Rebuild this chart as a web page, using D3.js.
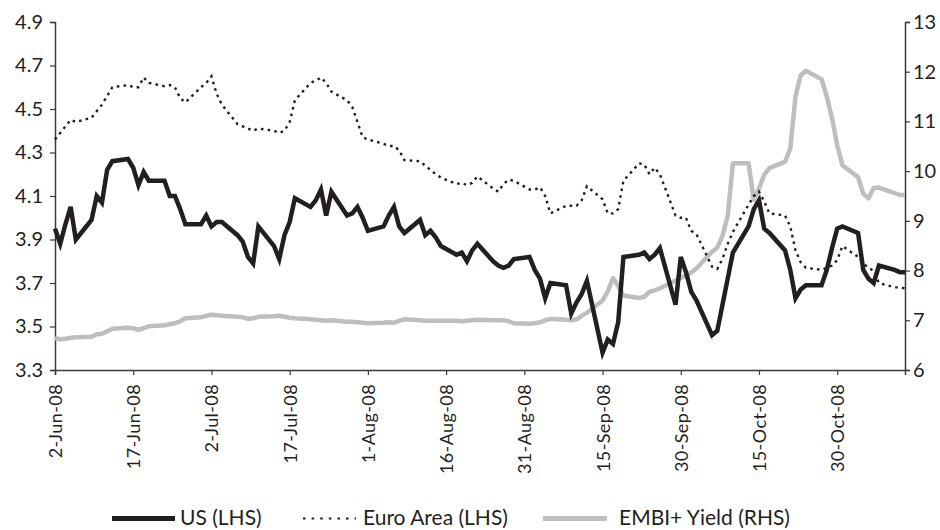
<!DOCTYPE html>
<html>
<head>
<meta charset="utf-8">
<script src="https://cdn.jsdelivr.net/npm/d3@7"></script>
<style>
  body { margin: 0; background: #fff; }
  svg text { font-family: Lato, "Open Sans", sans-serif; fill: #231f20; }
</style>
</head>
<body>
<div id="content"></div>
<script>
// business days, 2-Jun-08 .. 12-Nov-08
const dates = [
  "2008-06-02","2008-06-03","2008-06-04","2008-06-05","2008-06-06",
  "2008-06-09","2008-06-10","2008-06-11","2008-06-12","2008-06-13",
  "2008-06-16","2008-06-17","2008-06-18","2008-06-19","2008-06-20",
  "2008-06-23","2008-06-24","2008-06-25","2008-06-26","2008-06-27",
  "2008-06-30","2008-07-01","2008-07-02","2008-07-03","2008-07-04",
  "2008-07-07","2008-07-08","2008-07-09","2008-07-10","2008-07-11",
  "2008-07-14","2008-07-15","2008-07-16","2008-07-17","2008-07-18",
  "2008-07-21","2008-07-22","2008-07-23","2008-07-24","2008-07-25",
  "2008-07-28","2008-07-29","2008-07-30","2008-07-31","2008-08-01",
  "2008-08-04","2008-08-05","2008-08-06","2008-08-07","2008-08-08",
  "2008-08-11","2008-08-12","2008-08-13","2008-08-14","2008-08-15",
  "2008-08-18","2008-08-19","2008-08-20","2008-08-21","2008-08-22",
  "2008-08-25","2008-08-26","2008-08-27","2008-08-28","2008-08-29",
  "2008-09-01","2008-09-02","2008-09-03","2008-09-04","2008-09-05",
  "2008-09-08","2008-09-09","2008-09-10","2008-09-11","2008-09-12",
  "2008-09-15","2008-09-16","2008-09-17","2008-09-18","2008-09-19",
  "2008-09-22","2008-09-23","2008-09-24","2008-09-25","2008-09-26",
  "2008-09-29","2008-09-30","2008-10-01","2008-10-02","2008-10-03",
  "2008-10-06","2008-10-07","2008-10-08","2008-10-09","2008-10-10",
  "2008-10-13","2008-10-14","2008-10-15","2008-10-16","2008-10-17",
  "2008-10-20","2008-10-21","2008-10-22","2008-10-23","2008-10-24",
  "2008-10-27","2008-10-28","2008-10-29","2008-10-30","2008-10-31",
  "2008-11-03","2008-11-04","2008-11-05","2008-11-06","2008-11-07",
  "2008-11-10","2008-11-11","2008-11-12"
];

// US 10y yield (LHS)
const us = [
  3.95,3.88,3.97,4.05,3.90, 3.99,4.10,4.07,4.22,4.26, 4.27,4.23,4.15,4.21,4.17,
  4.17,4.10,4.10,4.04,3.97, 3.97,4.01,3.96,3.98,3.98, 3.92,3.89,3.82,3.79,3.96,
  3.87,3.81,3.92,3.98,4.09, 4.05,4.08,4.13,4.01,4.12, 4.01,4.02,4.05,4.00,3.94,
  3.96,4.01,4.05,3.96,3.93, 3.99,3.92,3.94,3.91,3.87, 3.83,3.84,3.80,3.85,3.88,
  3.80,3.78,3.77,3.78,3.81, 3.82,3.76,3.72,3.63,3.70, 3.69,3.56,3.61,3.65,3.71,
  3.38,3.44,3.42,3.52,3.82, 3.83,3.84,3.81,3.83,3.86, 3.60,3.82,3.75,3.66,3.62,
  3.46,3.48,3.60,3.72,3.84, 3.96,4.04,4.08,3.95,3.93, 3.85,3.76,3.63,3.67,3.69,
  3.69,3.76,3.86,3.95,3.96, 3.93,3.76,3.72,3.70,3.78, 3.76,3.75,3.75
];

// Euro Area 10y yield (LHS)
const euro = [
  4.36,4.39,4.42,4.45,4.44, 4.46,4.49,4.52,4.56,4.60, 4.61,4.60,4.60,4.645,4.62,
  4.605,4.61,4.60,4.55,4.53, 4.60,4.62,4.65,4.57,4.52, 4.43,4.42,4.41,4.40,4.41,
  4.40,4.39,4.40,4.44,4.54, 4.62,4.63,4.645,4.62,4.58, 4.54,4.51,4.44,4.37,4.36,
  4.34,4.33,4.33,4.31,4.265, 4.26,4.24,4.22,4.20,4.185, 4.155,4.16,4.15,4.16,4.19,
  4.135,4.12,4.155,4.175,4.17, 4.13,4.13,4.14,4.10,4.02, 4.055,4.055,4.055,4.08,4.145,
  4.085,4.02,4.02,4.04,4.17, 4.25,4.245,4.20,4.23,4.20, 4.01,4.00,4.00,3.94,3.925,
  3.775,3.765,3.81,3.88,3.935, 4.06,4.10,4.12,4.075,4.02, 4.01,3.96,3.85,3.795,3.77,
  3.76,3.77,3.78,3.805,3.87, 3.82,3.79,3.77,3.755,3.70, 3.68,3.68,3.675
];

// EMBI+ yield (RHS)
const embi = [
  6.64,6.62,6.63,6.65,6.66, 6.67,6.72,6.73,6.78,6.83, 6.85,6.84,6.81,6.84,6.88,
  6.90,6.92,6.94,6.98,7.04, 7.06,7.09,7.11,7.10,7.09, 7.07,7.06,7.03,7.04,7.07,
  7.08,7.09,7.07,7.05,7.04, 7.02,7.01,7.00,6.99,7.00, 6.97,6.97,6.96,6.95,6.94,
  6.95,6.96,6.95,6.99,7.02, 7.00,6.99,6.99,6.99,6.99, 6.99,6.98,6.99,7.00,7.01,
  7.00,7.00,7.00,6.98,6.94, 6.93,6.94,6.96,7.00,7.03, 7.01,7.00,7.02,7.09,7.15,
  7.40,7.58,7.85,7.69,7.50, 7.45,7.47,7.57,7.60,7.64, 7.80,7.85,7.90,7.96,8.04,
  8.38,8.46,8.70,9.10,10.16, 10.16,9.42,9.65,9.93,10.06, 10.19,10.45,11.50,11.93,12.02,
  11.85,11.50,11.07,10.52,10.12, 9.88,9.55,9.45,9.66,9.67, 9.56,9.52,9.52
];

const leftTicks = [3.3, 3.5, 3.7, 3.9, 4.1, 4.3, 4.5, 4.7, 4.9];
const rightTicks = [6, 7, 8, 9, 10, 11, 12, 13];
const xTicks = ["2008-06-02","2008-06-17","2008-07-02","2008-07-17","2008-08-01",
  "2008-08-16","2008-08-31","2008-09-15","2008-09-30","2008-10-15","2008-10-30"];
const legendNames = ["US (LHS)", "Euro Area (LHS)", "EMBI+ Yield (RHS)"];

// view
const w = 940;
const h = 530;
const m = {top: 22, right: 35, bottom: 160, left: 55};
const iw = w - m.left - m.right;
const ih = h - m.top - m.bottom;

const parse = d3.timeParse("%Y-%m-%d");
const days = dates.map(parse);

const svg = d3.select("#content")
  .append("svg")
  .attr("width", w)
  .attr("height", h);

const g = svg.append("g").attr("transform", `translate(${m.left},${m.top})`);

const x = d3.scaleTime().domain([days[0], days[days.length - 1]]).range([0, iw]);
const yL = d3.scaleLinear().domain([3.3, 4.9]).range([ih, 0]);
const yR = d3.scaleLinear().domain([6, 13]).range([ih, 0]);

const axisColor = "#3a3a3a";

// axes
const left = g.append("g")
  .call(d3.axisLeft(yL).tickValues(leftTicks).tickFormat(d3.format(".1f")).tickSizeOuter(0).tickSize(5).tickPadding(7));
const right = g.append("g")
  .attr("transform", `translate(${iw},0)`)
  .call(d3.axisRight(yR).tickValues(rightTicks).tickFormat(d3.format("d")).tickSizeOuter(0).tickSize(5).tickPadding(3));
const bottom = g.append("g")
  .attr("transform", `translate(0,${ih})`)
  .call(d3.axisBottom(x).tickValues(xTicks.map(parse)).tickFormat(d3.timeFormat("%-d-%b-%y")).tickSizeOuter(0).tickSize(5));

[left, right].forEach(a => a.selectAll("text").style("font-size", "20px"));
bottom.selectAll("text")
  .style("font-size", "18px")
  .style("letter-spacing", "0.4px")
  .attr("transform", "rotate(-90)")
  .attr("x", -14)
  .attr("y", 0)
  .attr("dy", "0.36em")
  .style("text-anchor", "end");

[left, right, bottom].forEach(a => {
  a.selectAll(".domain").attr("stroke", axisColor).attr("stroke-width", 1.5);
  a.selectAll(".tick line").attr("stroke", axisColor).attr("stroke-width", 1.2);
});

// lines
const lineL = d3.line().x((d, i) => x(days[i])).y(d => yL(d));
const lineR = d3.line().x((d, i) => x(days[i])).y(d => yR(d));

g.append("path")
  .datum(embi)
  .attr("d", lineR)
  .attr("fill", "none")
  .attr("stroke", "#bcbec0")
  .attr("stroke-width", 4.5)
  .attr("stroke-linejoin", "round");

g.append("path")
  .datum(euro)
  .attr("d", lineL)
  .attr("fill", "none")
  .attr("stroke", "#231f20")
  .attr("stroke-width", 2.4)
  .attr("stroke-dasharray", "2.6,4.2");

g.append("path")
  .datum(us)
  .attr("d", lineL)
  .attr("fill", "none")
  .attr("stroke", "#231f20")
  .attr("stroke-width", 4.5)
  .attr("stroke-linejoin", "miter");

// legend
const legend = [
  {name: legendNames[0], x1: 112, x2: 175, tx: 180, color: "#231f20", sw: 5, dash: null},
  {name: legendNames[1], x1: 303, x2: 356, tx: 363, color: "#231f20", sw: 2.2, dash: "2.6,6"},
  {name: legendNames[2], x1: 543, x2: 607, tx: 619, color: "#bcbec0", sw: 5, dash: null}
];

const lg = svg.append("g");
lg.selectAll("line")
  .data(legend)
  .enter()
  .append("line")
  .attr("x1", d => d.x1)
  .attr("x2", d => d.x2)
  .attr("y1", 518.5)
  .attr("y2", 518.5)
  .attr("stroke", d => d.color)
  .attr("stroke-width", d => d.sw)
  .attr("stroke-dasharray", d => d.dash);

lg.selectAll("text")
  .data(legend)
  .enter()
  .append("text")
  .attr("x", d => d.tx)
  .attr("y", 525)
  .style("font-size", "21px")
  .text(d => d.name);
</script>
</body>
</html>
